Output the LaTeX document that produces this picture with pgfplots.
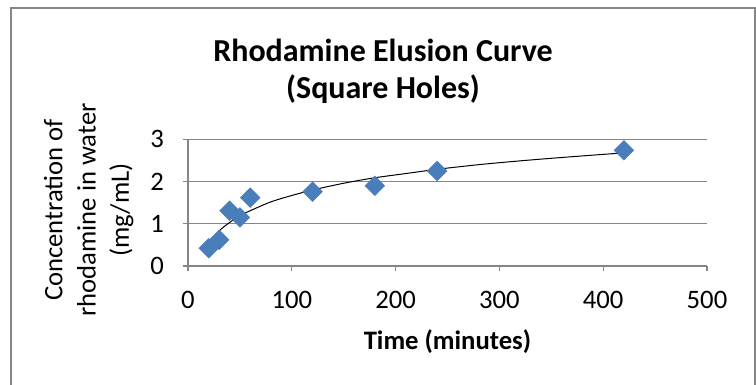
\documentclass[border=0pt]{standalone}
\usepackage{fontspec}
\setmainfont{Carlito}
\usepackage{pgfplots}
\pgfplotsset{compat=1.18}
\definecolor{mkblue}{RGB}{74,126,187}
\definecolor{gridgray}{RGB}{134,134,134}
\definecolor{framegray}{RGB}{134,134,134}

\begin{document}
\begin{tikzpicture}
\useasboundingbox (-141pt,-89.25pt) rectangle (426pt,199.5pt);
\draw[framegray, line width=1.5pt] (-132.75pt,-120pt) rectangle (425.25pt,193.5pt);

\begin{axis}[
  scale only axis,
  width=389.25pt, height=95pt,
  xmin=0, xmax=500, ymin=0, ymax=3,
  xtick={0,100,200,300,400,500},
  ytick={0,1,2,3},
  axis lines*=left,
  axis line style={gridgray, line width=0.9pt},
  ymajorgrids,
  grid style={gridgray, line width=0.9pt},
  tick align=outside,
  major tick length=4pt,
  tick style={gridgray, line width=0.9pt},
  tick label style={font=\fontsize{20}{23}\selectfont, black},
  xticklabel style={yshift=-11pt},
  yticklabel style={xshift=-10.5pt},
  /pgf/number format/assume math mode=true,
  clip=false,
]
% measured points
\addplot[only marks, mark=square*, mark size=5.2pt,
  mark options={rotate=45, fill=mkblue, draw=mkblue}]
  coordinates {(20,0.42) (30,0.62) (40,1.31) (50,1.15) (60,1.62)
               (120,1.76) (180,1.90) (240,2.25) (420,2.74)};
% log trendline
\addplot[black, line width=0.75pt, smooth]
  coordinates {(20,0.54) (30,0.83) (40,1.03) (50,1.19) (60,1.31) (80,1.52)
               (100,1.67) (120,1.80) (150,1.96) (180,2.09) (210,2.19)
               (240,2.29) (280,2.40) (320,2.49) (360,2.57) (420,2.68)};
\end{axis}

\node[font=\fontsize{24}{29}\selectfont\bfseries] at (146.25pt,162pt) {Rhodamine Elusion Curve};
\node[font=\fontsize{24}{29}\selectfont\bfseries] at (146.25pt,132.75pt) {(Square Holes)};
\node[font=\fontsize{20}{23}\selectfont\bfseries] at (194.6pt,-57pt) {Time (minutes)};
\node[rotate=90, align=center, font=\fontsize{20}{25}\selectfont] at (-74.5pt,42pt)
  {Concentration of\\rhodamine in water\\(mg/mL)};
\end{tikzpicture}
\end{document}
